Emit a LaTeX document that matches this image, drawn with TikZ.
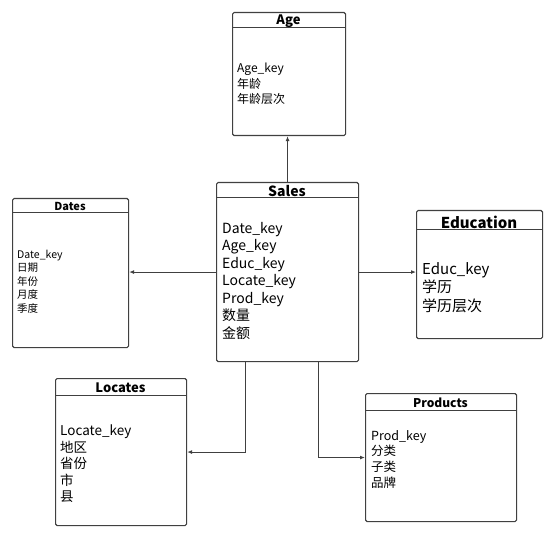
\documentclass[tikz,border=0pt]{standalone}
\usepackage{fontspec}
\setmainfont{Noto Sans CJK SC}
\usetikzlibrary{arrows.meta}

\definecolor{linegray}{RGB}{64,64,64}

\tikzset{
  entity/.style={draw=linegray, line width=1.1pt, rounded corners=1.5pt, anchor=north west, inner sep=0pt},
  title/.style={font=\bfseries, inner sep=0pt},
  fields/.style={anchor=north west, align=left, inner sep=0pt},
  link/.style={draw=linegray, line width=1pt, -{Latex[length=5pt,width=4pt]}}
}

\begin{document}
\begin{tikzpicture}[x=1pt,y=-1pt]
	\useasboundingbox (0,0) rectangle (554,537);

	% entities
	\node[entity, minimum width=113pt, minimum height=123pt] (age) at (232,12) {};
	\draw[linegray, line width=1pt] (232,28) -- (345,28);
	\node[title, font=\bfseries\fontsize{13}{13}\selectfont] (agetitle) at (288.5,21) {Age};
	\node[fields, font=\fontsize{12}{15.5}\selectfont] (agefields) at (237,63) {Age\_key\\年龄\\年龄层次};

	\node[entity, minimum width=116pt, minimum height=149pt] (dates) at (12,198) {};
	\draw[linegray, line width=1pt] (12,213) -- (128,213);
	\node[title, font=\bfseries\fontsize{11}{11}\selectfont] (datestitle) at (70,206.5) {Dates};
	\node[fields, font=\fontsize{10.5}{13.5}\selectfont] (datesfields) at (17,249.5) {Date\_key\\日期\\年份\\月度\\季度};

	\node[entity, minimum width=142pt, minimum height=179pt] (sales) at (216,182) {};
	\draw[linegray, line width=1pt] (216,198) -- (358,198);
	\node[title, font=\bfseries\fontsize{14}{14}\selectfont] (salestitle) at (287,191) {Sales};
	\node[fields, font=\fontsize{14}{17.5}\selectfont] (salesfields) at (222,222) {Date\_key\\Age\_key\\Educ\_key\\Locate\_key\\Prod\_key\\数量\\金额};

	\node[entity, minimum width=126pt, minimum height=128pt] (edu) at (416,210) {};
	\draw[linegray, line width=1pt] (416,230) -- (542,230);
	\node[title, font=\bfseries\fontsize{15}{15}\selectfont] (edutitle) at (479,222) {Education};
	\node[fields, font=\fontsize{15}{18.5}\selectfont] (edufields) at (422,262) {Educ\_key\\学历\\学历层次};

	\node[entity, minimum width=131pt, minimum height=147pt] (locates) at (55,378) {};
	\draw[linegray, line width=1pt] (55,395) -- (186,395);
	\node[title, font=\bfseries\fontsize{13}{13}\selectfont] (locatestitle) at (120.5,388) {Locates};
	\node[fields, font=\fontsize{13.5}{16.5}\selectfont] (locatesfields) at (60,425) {Locate\_key\\地区\\省份\\市\\县};

	\node[entity, minimum width=151pt, minimum height=128pt] (prod) at (365,393) {};
	\draw[linegray, line width=1pt] (365,410) -- (516,410);
	\node[title, font=\bfseries\fontsize{12}{12}\selectfont] (prodtitle) at (440.5,403) {Products};
	\node[fields, font=\fontsize{12.5}{15.7}\selectfont] (prodfields) at (371,430) {Prod\_key\\分类\\子类\\品牌};

	% links
	\draw[link] (sales.north) -- (sales.north |- age.south);
	\draw[link] (sales.west) -- (sales.west -| dates.east);
	\draw[link] (sales.east) -- (sales.east -| edu.west);
	\draw[link] ([xshift=-42pt]sales.south) |- (locates.east);
	\draw[link] ([xshift=31pt]sales.south) |- (prod.west);
\end{tikzpicture}
\end{document}
